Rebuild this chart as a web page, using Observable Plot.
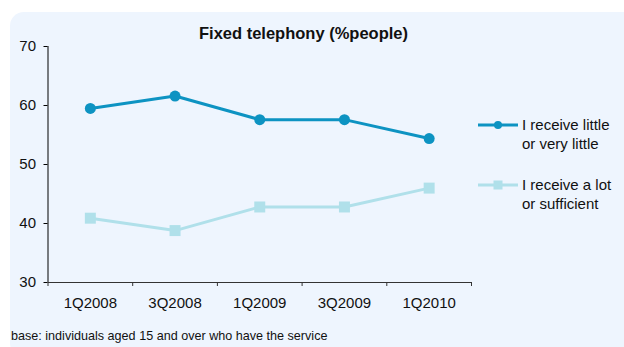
<!DOCTYPE html>
<html>
<head>
<meta charset="utf-8">
<script src="https://cdn.jsdelivr.net/npm/d3@7"></script>
<script src="https://cdn.jsdelivr.net/npm/@observablehq/plot@0.6"></script>
<style>
  html, body { margin: 0; padding: 0; background: #ffffff; }
  #wrap { position: relative; width: 624px; height: 347px; overflow: hidden; font-family: "Liberation Sans", Arial, sans-serif; color: #111; }
  #panel { position: absolute; left: 10px; top: 12px; width: 640px; height: 345px; border-radius: 14px; background: #EEF5FE; }
  #chart { position: absolute; left: 0; top: 0; }
  #title { position: absolute; left: 0; width: 607px; top: 24px; text-align: center; font-weight: bold; font-size: 16.5px; }
  #foot { position: absolute; left: 11px; top: 329px; font-size: 12.6px; }
  .leg { position: absolute; left: 478px; font-size: 15px; line-height: 19px; }
  .leg svg { position: absolute; left: 0; top: 0; }
  .leg span { position: absolute; left: 44px; top: -10px; white-space: nowrap; }
</style>
</head>
<body>
<div id="wrap">
  <div id="panel"></div>
  <div id="chart"></div>
  <div id="title"></div>
  <div id="foot"></div>
  <div id="legend"></div>
</div>
<script>
const quarters = ["1Q2008", "3Q2008", "1Q2009", "3Q2009", "1Q2010"];
const littleValues = [59.5, 61.6, 57.6, 57.6, 54.4];
const lotValues = [40.9, 38.8, 42.8, 42.8, 46.0];
const seriesNames = ["I receive little\nor very little", "I receive a lot\nor sufficient"];
const yTicks = [30, 40, 50, 60, 70];
const titleText = "Fixed telephony (%people)";
const footText = "base: individuals aged 15 and over who have the service";

const darkColor = "#0D93C2";
const lightColor = "#B0E0EA";

const idx = quarters.map((q, i) => i);
const little = idx.map(i => ({i, v: littleValues[i]}));
const lot = idx.map(i => ({i, v: lotValues[i]}));
const bounds = d3.range(-0.5, quarters.length, 1);

const plot = Plot.plot({
  width: 624,
  height: 347,
  marginLeft: 47.5,
  marginRight: 153,
  marginTop: 46,
  marginBottom: 65,
  style: { background: "transparent", fontFamily: "'Liberation Sans', Arial, sans-serif", fontSize: "15px", color: "#111" },
  x: { domain: [-0.5, quarters.length - 0.5] },
  y: { domain: [30, 70] },
  marks: [
    Plot.axisY({ ticks: yTicks, tickSize: 4, tickPadding: 8, label: null, stroke: "#000", strokeOpacity: 1 }),
    Plot.ruleX([-0.5], { stroke: "#000", strokeWidth: 1 }),
    Plot.ruleY([30], { stroke: "#333", strokeWidth: 1 }),
    Plot.ruleX(bounds, { y1: 30, y2: 30 - 4 / 5.9, stroke: "#333" }),
    Plot.axisX({ ticks: idx, tickFormat: i => quarters[i], tickSize: 0, tickPadding: 15, label: null }),
    Plot.line(lot, { x: "i", y: "v", stroke: lightColor, strokeWidth: 3 }),
    Plot.dot(lot, { x: "i", y: "v", symbol: "square", r: 6.2, fill: lightColor }),
    Plot.line(little, { x: "i", y: "v", stroke: darkColor, strokeWidth: 3 }),
    Plot.dot(little, { x: "i", y: "v", r: 5.5, fill: darkColor })
  ]
});
document.getElementById("chart").appendChild(plot);
document.getElementById("title").textContent = titleText;
document.getElementById("foot").textContent = footText;

const legend = document.getElementById("legend");
const legTops = [125, 185];
seriesNames.forEach((name, k) => {
  const d = document.createElement("div");
  d.className = "leg";
  d.style.top = legTops[k] + "px";
  const color = k === 0 ? darkColor : lightColor;
  const marker = k === 0
    ? `<circle cx="20" cy="0" r="4" fill="${color}"/>`
    : `<rect x="15.5" y="-4.5" width="9" height="9" fill="${color}"/>`;
  d.innerHTML = `<svg width="44" height="12" viewBox="0 -6 44 12" style="top:-6px"><line x1="0" x2="40" y1="0" y2="0" stroke="${color}" stroke-width="3"/>${marker}</svg><span>${name.replace("\n", "<br>")}</span>`;
  legend.appendChild(d);
});
</script>
</body>
</html>
